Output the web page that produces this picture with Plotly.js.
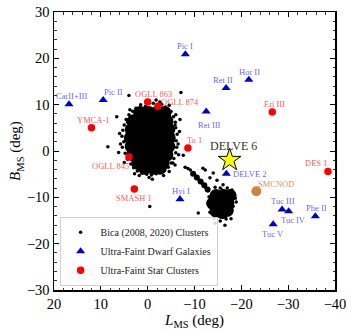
<!DOCTYPE html>
<html>
<head>
<meta charset="utf-8">
<script src="https://cdn.plot.ly/plotly-3.0.1.min.js"></script>
<style>
  html, body { margin: 0; padding: 0; background: #fff; }
  #chart { width: 353px; height: 333px; }
</style>
</head>
<body>
<div id="chart"></div>
<script>
// Bica (2008, 2020) clusters: scattered / edge dots
var bicaL = [
  // LMC edge
  2.5, 1.5, 0.5, -1.2, -2.0, -3.0, -3.8, -4.6, -1.8, 3.2, 0.2, -2.6,
  4.0, 4.6, 5.0, 3.8, 4.3,
  5.3, 5.5, 5.1, 5.4, 4.8, 6.0, 5.8, 6.2,
  4.3, 3.6, 3.0, 2.2, 5.0, 2.8,
  1.2, 0.2, -0.8, -1.8, -2.8, -3.6, -0.3, 1.8, -1.0, -3.4,
  -4.4, -5.0, -5.6, -4.6,
  -6.0, -6.2, -6.1, -6.3, -6.0, -5.9, -6.5, -5.85, -6.8, -6.6, -6.9,
  -5.5, -5.0, -4.4, -6.0,
  // SMC edge and bridge
  -18.0, -18.7, -18.25, -17.6, -16.75, -15.5, -14.2, -13.3, -12.9, -13.1, -14.4, -15.9, -17.0,
  -14.4, -15.5, -16.1, -12.3, -14.4, -16.5, -10.8, -14.0, -13.3, -14.8, -18.9, -17.8,
  -9.1, -9.7, -10.3, -11.0, -11.6, -12.3, -12.9, -8.6,
  // isolated
  4.0, -7.1, 6.6, 8.5, -0.45, -7.6, -5.4, -11.8, -5.85, -8.0
];
var bicaB = [
  9.2, 10.0, 9.6, 10.3, 9.8, 10.1, 9.5, 9.9, 11.0, 8.6, 10.4, 10.6,
  7.8, 6.8, 5.6, 8.9, 6.2,
  4.5, 3.2, 2.0, 0.8, -0.5, 3.8, 1.5, -0.3,
  -1.8, -2.8, -3.6, -4.3, -2.5, -4.9,
  -4.8, -5.0, -5.2, -4.9, -4.6, -4.2, -5.7, -5.3, -6.1, -5.3,
  -3.5, -2.6, -1.6, -4.4,
  -0.4, 0.8, 2.2, 3.6, 5.0, 6.2, 1.5, 5.6, 4.2, -0.8, 6.8,
  7.4, 8.5, 9.0, 7.8,
  -8.4, -10.2, -11.9, -13.4, -14.7, -15.1, -14.5, -13.2, -11.4, -9.9, -9.1, -8.4, -8.0,
  -7.8, -8.0, -7.3, -4.1, -15.6, -16.0, -13.4, -4.75, -5.8, -6.3, -11.0, -14.6,
  -4.1, -4.75, -5.4, -6.3, -6.9, -7.8, -8.6, -3.8,
  12.0, 12.6, 7.4, 0.9, -12.0, -0.9, -2.6, -3.7, -3.0, -3.5
];

// dense cores of the Magellanic Clouds (Bica clusters, packed)
var lmcCoreL = [1.6, -0.2, -2.0, -3.6,
                3.0, 1.2, -0.6, -2.4, -4.0,
                3.4, 1.6, -0.2, -2.0, -3.8, -4.4,
                3.6, 1.8, 0.0, -1.8, -3.6, -4.5,
                3.4, 1.6, -0.2, -2.0, -3.8, -4.4,
                3.0, 1.2, -0.6, -2.4, -4.0,
                2.0, 0.2, -1.6, -3.2,
                0.6, -1.2, -2.6];
var lmcCoreB = [8.2, 8.2, 8.2, 8.2,
                6.4, 6.4, 6.4, 6.4, 6.4,
                4.6, 4.6, 4.6, 4.6, 4.6, 4.6,
                2.8, 2.8, 2.8, 2.8, 2.8, 2.8,
                1.0, 1.0, 1.0, 1.0, 1.0, 1.0,
                -0.8, -0.8, -0.8, -0.8, -0.8,
                -2.6, -2.6, -2.6, -2.6,
                -3.6, -3.6, -3.6];
var smcCoreL = [-14.6, -16.3, -17.6, -13.9, -15.5, -17.1, -14.6, -16.0, -17.0];
var smcCoreB = [-9.6, -9.6, -9.6, -11.3, -11.3, -11.3, -13.0, -13.3, -12.8];
var bridgeL = [-9.7, -10.5, -11.3, -12.1, -12.8];
var bridgeB = [-4.9, -5.7, -6.6, -7.4, -8.3];

// Ultra-faint dwarf galaxies
var ufdNames = ['CarII+III', 'Pic II', 'Pic I', 'Ret II', 'Hor II', 'Ret III',
                'DELVE 2', 'Hyi I', 'Tuc III', 'Tuc IV', 'Tuc V', 'Phe II'];
var ufdL = [16.8, 9.5, -8.05, -16.75, -21.6, -12.5, -16.8, -6.9, -28.7, -30.1, -26.8, -35.8];
var ufdB = [10.1, 11.0, 20.9, 13.6, 15.4, 8.5, -4.9, -10.4, -12.6, -13.0, -15.8, -14.1];

// Ultra-faint star clusters
var ufscNames = ['OGLL 863', 'OGLL 874', 'YMCA-1', 'OGLL 845', 'SMASH 1', 'To 1', 'Eri III', 'DES 1'];
var ufscL = [0.0, -2.2, 12.0, 4.0, 2.85, -8.6, -26.6, -38.5];
var ufscB = [10.6, 9.65, 5.0, -1.3, -8.2, 0.65, 8.4, -4.4];

var smcnodL = [-23.2], smcnodB = [-8.7];
var delve6L = [-17.5], delve6B = [-1.95];

// label offsets in pixels [dx, dy]
var ufdOffset = {
  'CarII+III': [3, 8], 'Pic II': [10, 8], 'Pic I': [0, 8], 'Ret II': [-3, 8],
  'Hor II': [1, 8], 'Ret III': [3, -13], 'DELVE 2': [23, 0], 'Hyi I': [1, 8],
  'Tuc III': [1, 8], 'Tuc IV': [5, -9], 'Tuc V': [0, -10], 'Phe II': [1, 8]
};
var ufscOffset = {
  'OGLL 863': [6, 8], 'OGLL 874': [22, 4], 'YMCA-1': [2, 8], 'OGLL 845': [-18, -9],
  'SMASH 1': [0, -9], 'To 1': [7, 8], 'Eri III': [2, 8], 'DES 1': [-12, 8]
};

var serif = 'Liberation Serif, Times New Roman, serif';
var blueText = 'rgba(40,40,255,0.75)';
var redText = 'rgba(255,30,30,0.8)';

var data = [
  {
    x: lmcCoreL, y: lmcCoreB, type: 'scatter', mode: 'markers',
    marker: {color: 'black', size: 14}, showlegend: false, hoverinfo: 'skip'
  },
  {
    x: smcCoreL, y: smcCoreB, type: 'scatter', mode: 'markers',
    marker: {color: 'black', size: 13}, showlegend: false, hoverinfo: 'skip'
  },
  {
    x: bridgeL, y: bridgeB, type: 'scatter', mode: 'markers',
    marker: {color: 'black', size: 6}, showlegend: false, hoverinfo: 'skip'
  },
  {
    x: bicaL, y: bicaB, type: 'scatter', mode: 'markers',
    name: 'Bica (2008, 2020) Clusters',
    marker: {color: 'black', size: 3.5}
  },
  {
    x: ufdL, y: ufdB, type: 'scatter', mode: 'markers',
    name: 'Ultra-Faint Dwarf Galaxies',
    marker: {color: '#0000cc', symbol: 'triangle-up', size: 8}
  },
  {
    x: ufscL, y: ufscB, type: 'scatter', mode: 'markers',
    name: 'Ultra-Faint Star Clusters',
    marker: {color: 'red', size: 7.5}
  },
  {
    x: smcnodL, y: smcnodB, type: 'scatter', mode: 'markers',
    marker: {color: '#cd853f', size: 10}, showlegend: false
  },
  {
    x: delve6L, y: delve6B, type: 'scatter', mode: 'markers',
    marker: {color: '#ffff00', symbol: 'star', size: 17, line: {color: 'black', width: 1}},
    showlegend: false
  }
];

var annotations = [];
ufdNames.forEach(function (n, i) {
  annotations.push({x: ufdL[i], y: ufdB[i], text: n, showarrow: false,
    xshift: ufdOffset[n][0], yshift: ufdOffset[n][1],
    font: {family: serif, size: 8.5, color: blueText}});
});
ufscNames.forEach(function (n, i) {
  annotations.push({x: ufscL[i], y: ufscB[i], text: n, showarrow: false,
    xshift: ufscOffset[n][0], yshift: ufscOffset[n][1],
    font: {family: serif, size: 8.5, color: redText}});
});
annotations.push({x: smcnodL[0], y: smcnodB[0], text: 'SMCNOD', showarrow: false,
  xshift: 20, yshift: 7, font: {family: serif, size: 8.5, color: 'rgba(205,133,63,0.9)'}});
annotations.push({x: delve6L[0], y: delve6B[0], text: 'DELVE 6', showarrow: false,
  xshift: 4, yshift: 14, font: {family: serif, size: 12, color: '#333'}});

var axisCommon = {
  showgrid: false, zeroline: false,
  showline: true, linecolor: 'black', linewidth: 1.5, mirror: 'ticks',
  ticks: 'inside', ticklen: 5, tickwidth: 1, tickcolor: 'black',
  dtick: 10,
  minor: {dtick: 2, ticks: 'inside', ticklen: 2.5, tickwidth: 0.8, tickcolor: 'black'},
  tickfont: {family: serif, size: 14.5, color: 'black'}
};

var layout = {
  width: 353, height: 333,
  margin: {l: 54, r: 18, t: 12, b: 43},
  paper_bgcolor: 'white', plot_bgcolor: 'white',
  xaxis: Object.assign({}, axisCommon, {
    range: [20, -40],
    title: {text: '<i>L</i><sub>MS</sub> (deg)', font: {family: serif, size: 15, color: 'black'}, standoff: 0}
  }),
  yaxis: Object.assign({}, axisCommon, {
    range: [-30, 30],
    title: {text: '<i>B</i><sub>MS</sub> (deg)', font: {family: serif, size: 15, color: 'black'}, standoff: 2}
  }),
  legend: {
    x: 0.02, y: 0.015, xanchor: 'left', yanchor: 'bottom',
    bgcolor: 'rgba(255,255,255,0.85)', bordercolor: '#d0d0d0', borderwidth: 1,
    font: {family: serif, size: 10, color: '#222'},
    itemwidth: 30, tracegroupgap: 0
  },
  annotations: annotations,
  showlegend: true
};

Plotly.newPlot('chart', data, layout, {displayModeBar: false, staticPlot: true});
</script>
</body>
</html>
